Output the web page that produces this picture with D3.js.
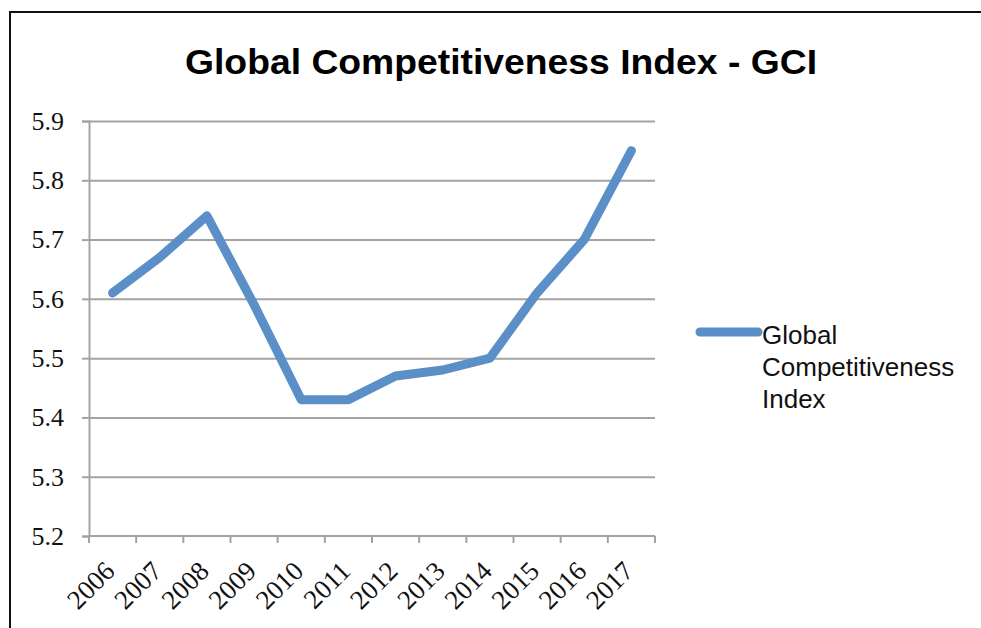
<!DOCTYPE html>
<html>
<head>
<meta charset="utf-8">
<script src="https://cdn.jsdelivr.net/npm/d3@7"></script>
<style>
  body { margin: 0; background: #fff; }
  svg { display: block; }
</style>
</head>
<body>
<div id="chart"></div>
<script>
// data
const years = ["2006", "2007", "2008", "2009", "2010", "2011", "2012", "2013", "2014", "2015", "2016", "2017"];
const gciValues = [5.61, 5.67, 5.74, 5.59, 5.43, 5.43, 5.47, 5.48, 5.50, 5.61, 5.70, 5.85];
const yTicks = [5.2, 5.3, 5.4, 5.5, 5.6, 5.7, 5.8, 5.9];
const seriesName = "Global Competitiveness Index";
const legendLines = ["Global", "Competitiveness", "Index"];

const W = 981, H = 628;
const plot = { left: 89, right: 655, top: 121, bottom: 536 };
const lineColor = "#5b8fc8";
const gridColor = "#a3a3a3";

const svg = d3.select("#chart").append("svg")
  .attr("width", W)
  .attr("height", H);

// outer frame (top + left edges)
svg.append("path")
  .attr("d", `M10,${H} L10,12 L${W},12`)
  .attr("fill", "none")
  .attr("stroke", "#111")
  .attr("stroke-width", 2);

// title
svg.append("text")
  .attr("x", 185)
  .attr("y", 74)
  .attr("textLength", 632)
  .attr("lengthAdjust", "spacingAndGlyphs")
  .style("font-family", "'Liberation Sans', Arial, sans-serif")
  .style("font-weight", "bold")
  .style("font-size", "35px")
  .text("Global Competitiveness Index - GCI");

const x = d3.scaleBand()
  .domain(years)
  .range([plot.left, plot.right])
  .padding(0);

const y = d3.scaleLinear()
  .domain([5.2, 5.9])
  .range([plot.bottom, plot.top]);

// gridlines
svg.append("g")
  .attr("transform", `translate(${plot.left},0)`)
  .call(d3.axisRight(y).tickValues(yTicks.slice(1)).tickSize(plot.right - plot.left).tickFormat(""))
  .call(g => g.select(".domain").remove())
  .call(g => g.selectAll("line").attr("stroke", gridColor).attr("stroke-width", 2));

// y axis
svg.append("g")
  .attr("transform", `translate(${plot.left},0)`)
  .call(d3.axisLeft(y).tickValues(yTicks).tickSize(7).tickPadding(18).tickFormat(d3.format(".1f")))
  .call(g => g.select(".domain").attr("stroke", gridColor).attr("stroke-width", 2))
  .call(g => g.selectAll("line").attr("stroke", gridColor).attr("stroke-width", 2))
  .call(g => g.selectAll("text")
    .style("font-family", "'Liberation Serif', 'Times New Roman', serif")
    .style("font-size", "26px")
    .attr("fill", "#111"));

// x axis line + boundary ticks
const xAxis = svg.append("g");
xAxis.append("line")
  .attr("x1", plot.left).attr("x2", plot.right)
  .attr("y1", plot.bottom).attr("y2", plot.bottom)
  .attr("stroke", gridColor).attr("stroke-width", 2);
xAxis.selectAll(".xtick")
  .data(years.concat(["end"]))
  .join("line")
  .attr("class", "xtick")
  .attr("x1", d => d === "end" ? plot.right : x(d))
  .attr("x2", d => d === "end" ? plot.right : x(d))
  .attr("y1", plot.bottom)
  .attr("y2", plot.bottom + 7)
  .attr("stroke", gridColor)
  .attr("stroke-width", 2);

// x labels, rotated
xAxis.selectAll(".xlabel")
  .data(years)
  .join("text")
  .attr("class", "xlabel")
  .attr("transform", d => `translate(${x(d) + x.bandwidth() / 2 - 3},${plot.bottom + 30}) rotate(-45)`)
  .attr("text-anchor", "end")
  .attr("dy", "0.35em")
  .style("font-family", "'Liberation Serif', 'Times New Roman', serif")
  .style("font-size", "27px")
  .attr("fill", "#111")
  .text(d => d);

// the series line
const line = d3.line()
  .x((d, i) => x(years[i]) + x.bandwidth() / 2)
  .y(d => y(d));

svg.append("path")
  .datum(gciValues)
  .attr("d", line)
  .attr("fill", "none")
  .attr("stroke", lineColor)
  .attr("stroke-width", 9)
  .attr("stroke-linecap", "round")
  .attr("stroke-linejoin", "round");

// legend
const legend = svg.append("g").attr("transform", "translate(700,332)");
legend.append("line")
  .attr("x1", 0).attr("x2", 58)
  .attr("y1", 0).attr("y2", 0)
  .attr("stroke", lineColor)
  .attr("stroke-width", 9)
  .attr("stroke-linecap", "round");
legend.append("text")
  .attr("x", 62)
  .attr("y", 12)
  .style("font-family", "'Liberation Sans', Arial, sans-serif")
  .style("font-size", "26px")
  .attr("fill", "#111")
  .selectAll("tspan")
  .data(legendLines)
  .join("tspan")
  .attr("x", 62)
  .attr("dy", (d, i) => i === 0 ? 0 : 32)
  .text(d => d);
</script>
</body>
</html>
